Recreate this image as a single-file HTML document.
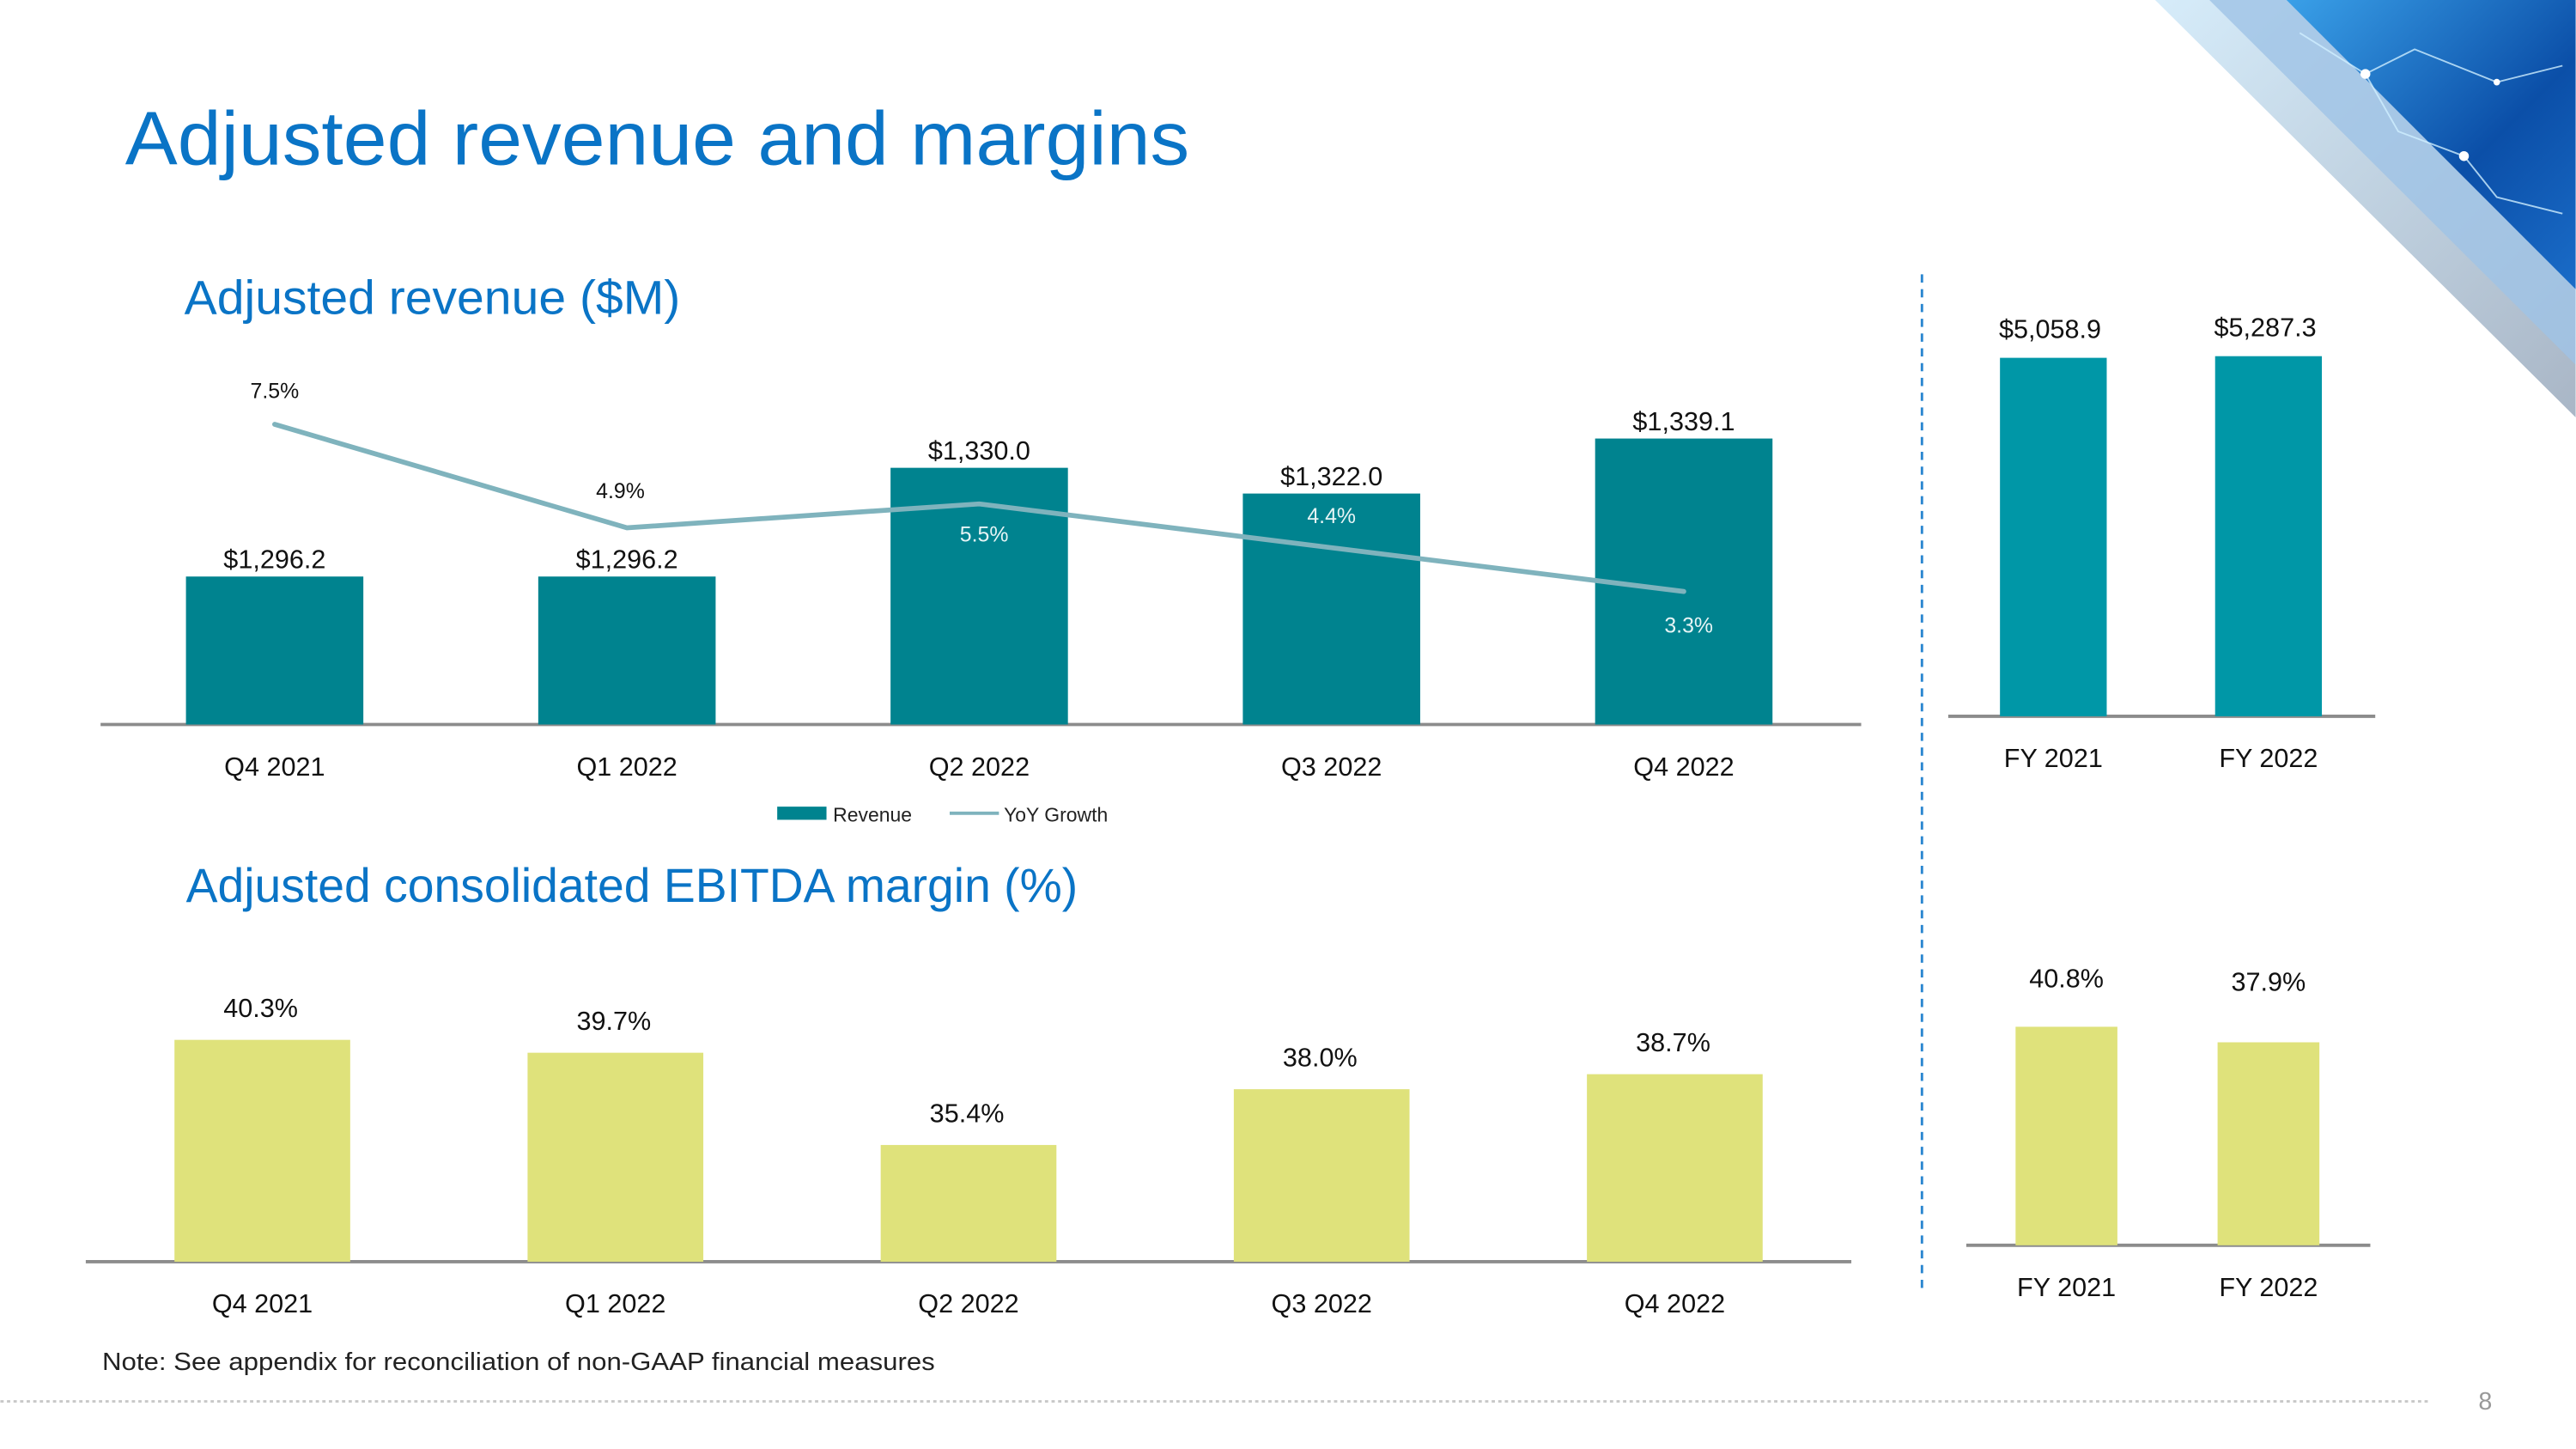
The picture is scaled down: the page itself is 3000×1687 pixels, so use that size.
<!DOCTYPE html>
<html><head><meta charset="utf-8"><style>
html,body{margin:0;padding:0;background:#fff;}
svg{display:block;font-family:"Liberation Sans",sans-serif;}
</style></head><body>
<svg id="s" width="3000" height="1687" viewBox="0 0 1568 882" xmlns="http://www.w3.org/2000/svg">
<defs>
<linearGradient id="bg1" x1="0" y1="0" x2="1" y2="1">
<stop offset="0" stop-color="#3aa0e8"/><stop offset="0.6" stop-color="#0b4fa8"/><stop offset="1" stop-color="#1a6cc8"/></linearGradient>
<linearGradient id="bg2" x1="0" y1="0" x2="1" y2="1">
<stop offset="0" stop-color="#d6ecfa"/><stop offset="1" stop-color="#a9b6c6"/></linearGradient>
</defs>
<g>
<polygon points="1312,0 1568,0 1568,254" fill="url(#bg2)"/>
<polygon points="1345,0 1568,0 1568,222" fill="#9fc3e6" opacity="0.8"/>
<polygon points="1392,0 1568,0 1568,176" fill="url(#bg1)"/>
<polyline points="1400,20 1440,45 1470,30 1520,50 1560,40" stroke="#cfefff" stroke-width="1" fill="none" opacity="0.8"/>
<polyline points="1440,45 1460,80 1500,95 1520,120 1560,130" stroke="#cfefff" stroke-width="1" fill="none" opacity="0.8"/>
<circle cx="1440" cy="45" r="3" fill="#fff"/><circle cx="1500" cy="95" r="3" fill="#fff"/><circle cx="1520" cy="50" r="2" fill="#fff"/>
</g>
<text x="76" y="100" font-size="46" fill="#0a74c6" textLength="648" lengthAdjust="spacingAndGlyphs">Adjusted revenue and margins</text>
<text x="112" y="191" font-size="29" fill="#0a74c6" textLength="302" lengthAdjust="spacingAndGlyphs">Adjusted revenue ($M)</text>
<text x="113" y="549" font-size="29" fill="#0a74c6" textLength="543" lengthAdjust="spacingAndGlyphs">Adjusted consolidated EBITDA margin (%)</text>
<line x1="1170" y1="167" x2="1170" y2="787" stroke="#2a86d0" stroke-width="1.5" stroke-dasharray="5,4"/>
<line x1="0" y1="853" x2="1480" y2="853" stroke="#c8c8c8" stroke-width="1.5" stroke-dasharray="2,2"/>
<text x="1513" y="858" font-size="15" fill="#999" text-anchor="middle">8</text>
<text x="62" y="834" font-size="15" fill="#222" textLength="507" lengthAdjust="spacingAndGlyphs">Note: See appendix for reconciliation of non-GAAP financial measures</text>
<g>
<rect x="473" y="491" width="30" height="8" fill="#00838f"/>
<text x="507" y="500" font-size="12" fill="#222">Revenue</text>
<line x1="578" y1="495" x2="608" y2="495" stroke="#7fb3bd" stroke-width="2"/>
<text x="611" y="500" font-size="12" fill="#222">YoY Growth</text>
</g>
<g id="charts"></g>
</svg>
<script>
const quarters = ["Q4 2021","Q1 2022","Q2 2022","Q3 2022","Q4 2022"];
const revenue = [1296.2,1296.2,1330.0,1322.0,1339.1];
const revenueLabels = ["$1,296.2","$1,296.2","$1,330.0","$1,322.0","$1,339.1"];
const growth = [7.5,4.9,5.5,4.4,3.3];
const growthLabels = ["7.5%","4.9%","5.5%","4.4%","3.3%"];
const years = ["FY 2021","FY 2022"];
const fyRevenue = [5058.9,5287.3];
const fyRevenueLabels = ["$5,058.9","$5,287.3"];
const ebitda = [40.3,39.7,35.4,38.0,38.7];
const ebitdaLabels = ["40.3%","39.7%","35.4%","38.0%","38.7%"];
const fyEbitda = [40.8,37.9];
const fyEbitdaLabels = ["40.8%","37.9%"];

const NS="http://www.w3.org/2000/svg";
const G=document.getElementById('charts');
function mk(tag,attrs,parent){const e=document.createElementNS(NS,tag);for(const k in attrs)e.setAttribute(k,attrs[k]);(parent||G).appendChild(e);return e;}
function txt(x,y,s,size,fill,anchor){const t=mk('text',{x:x,y:y,'font-size':size,fill:fill,'text-anchor':anchor||'middle'});t.textContent=s;return t;}

// revenue quarterly
const revX=i=>167+i*214.5;
const revY=v=>441-(v-1250.2)*1.958;
const grY=v=>440-v*24.23;
let ax=mk('line',{x1:61,y1:441,x2:1133,y2:441,stroke:'#8c8c8c','stroke-width':2});

revenue.forEach((v,i)=>{
 const r=mk('rect',{x:revX(i)-54,y:revY(v),width:108,height:441-revY(v),fill:'#00838f'});
 
 
 const l=txt(revX(i),revY(v)-5,revenueLabels[i],16,'#111');
 
 
 const q=txt(revX(i),472,quarters[i],16,'#111');
 
 
});
const pts=growth.map((v,i)=>revX(i)+','+grY(v)).join(' ');
const pl=mk('polyline',{points:pts,fill:'none',stroke:'#7fb3bd','stroke-width':3,'stroke-linejoin':'round','stroke-linecap':'round'});


const gOff=[-16,-18,23,-15,25];
growth.forEach((v,i)=>{
 const inBar = grY(v)+gOff[i] > revY(revenue[i]);
 const t=txt(revX(i)+[0,-4,3,0,3][i],grY(v)+gOff[i],growthLabels[i],13,inBar?'#e6f4f5':'#111');
 
 
});

// FY revenue
const fyX=i=>1250+i*131;
const fyRY=v=>436-(v+44700)*0.004385;
let ax2=mk('line',{x1:1186,y1:436,x2:1446,y2:436,stroke:'#8c8c8c','stroke-width':2});

fyRevenue.forEach((v,i)=>{
 const r=mk('rect',{x:fyX(i)-32.5,y:fyRY(v),width:65,height:436-fyRY(v),fill:'#0097a7'});
 
 
 const l=txt(fyX(i)-2,fyRY(v)-12,fyRevenueLabels[i],16,'#111');
 
 
 const q=txt(fyX(i),467,years[i],16,'#111');
 
 
});

// EBITDA quarterly
const ebX=i=>159.5+i*215;
const ebY=v=>768-(v-29.96)*13.06;
let ax3=mk('line',{x1:52,y1:768,x2:1127,y2:768,stroke:'#8c8c8c','stroke-width':2});

ebitda.forEach((v,i)=>{
 const r=mk('rect',{x:ebX(i)-53.5,y:ebY(v),width:107,height:768-ebY(v),fill:'#dfe27b'});
 
 
 const l=txt(ebX(i)-1,ebY(v)-14,ebitdaLabels[i],16,'#111');
 
 
 const q=txt(ebX(i),799,quarters[i],16,'#111');
 
 
});

// FY EBITDA
const fyEX=i=>1258+i*123;
const fyEY=v=>758-v*3.26;
let ax4=mk('line',{x1:1197,y1:758,x2:1443,y2:758,stroke:'#8c8c8c','stroke-width':2});

fyEbitda.forEach((v,i)=>{
 const r=mk('rect',{x:fyEX(i)-31,y:fyEY(v),width:62,height:758-fyEY(v),fill:'#dfe27b'});
 
 
 const l=txt(fyEX(i),[601,603][i],fyEbitdaLabels[i],16,'#111');
 
 
 const q=txt(fyEX(i),789,years[i],16,'#111');
 
 
});
</script>
</body></html>
